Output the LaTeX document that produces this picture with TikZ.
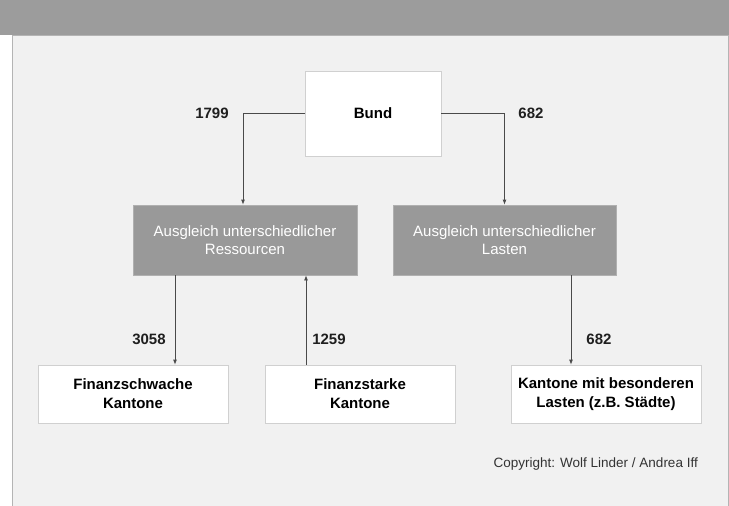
\documentclass[tikz,border=0pt]{standalone}
\usepackage{fontspec}
\setmainfont{Liberation Sans}
\usetikzlibrary{arrows.meta,calc}
\definecolor{banner}{HTML}{9C9C9C}
\definecolor{panel}{HTML}{F1F1F1}
\definecolor{panelborder}{HTML}{B4B4B4}
\definecolor{graybox}{HTML}{999999}
\definecolor{grayboxborder}{HTML}{B0B0B0}
\definecolor{whiteborder}{HTML}{D0D0D0}
\definecolor{linecol}{HTML}{4A4A4A}
\tikzset{
  whitebox/.style={draw=whiteborder, line width=0.8pt, fill=white, align=center, inner sep=0pt},
  graynode/.style={draw=grayboxborder, line width=0.8pt, fill=graybox, text=white, align=center, inner sep=0pt,
    font=\fontsize{15}{18}\selectfont},
  boldlabel/.style={font=\fontsize{15}{17}\bfseries\selectfont, text=black!88, inner sep=0pt},
  arr/.style={draw=linecol, line width=0.8pt, -{Latex[length=5pt,width=4pt]}},
  conn/.style={draw=linecol, line width=0.8pt}
}
\begin{document}
\begin{tikzpicture}[x=1pt,y=-1pt]
\useasboundingbox (0,0) rectangle (729,506);
% background
\fill[white] (0,0) rectangle (729,506);
\fill[banner] (0,0) rectangle (729,35);
\draw[panelborder, fill=panel, line width=0.8pt] (12,35.5) rectangle (728,507);
% nodes
\node[whitebox, minimum width=136pt, minimum height=85pt, font=\fontsize{15}{17}\bfseries\selectfont] (bund) at (373,113.5) {Bund};
\node[graynode, minimum width=224pt, minimum height=70pt] (lg) at (245,240) {Ausgleich unterschiedlicher\\Ressourcen};
\node[graynode, minimum width=223pt, minimum height=70pt] (rg) at (504.5,240) {Ausgleich unterschiedlicher\\Lasten};
\node[whitebox, minimum width=190pt, minimum height=58pt, font=\fontsize{15}{19}\bfseries\selectfont] (fs) at (133,394) {Finanzschwache\\Kantone};
\node[whitebox, minimum width=190pt, minimum height=58pt, font=\fontsize{15}{19}\bfseries\selectfont] (fst) at (360,394) {Finanzstarke\\Kantone};
\node[whitebox, minimum width=190pt, minimum height=58pt, font=\fontsize{15}{19}\bfseries\selectfont] (kb) at (606,394) {Kantone mit besonderen\\Lasten (z.B. St\"adte)};
% helper coordinates
\coordinate (c1) at ([xshift=42pt]fs.north);
\coordinate (c2) at ([xshift=-54pt]fst.north);
\coordinate (c3) at ([xshift=-35pt]kb.north);
\coordinate (t1) at ([xshift=-2pt]lg.north);
\coordinate (t2) at (rg.north);
% connectors
\draw[arr] (bund.west) -| (t1);
\draw[arr] (bund.east) -| (t2);
\draw[arr] (c1 |- lg.south) -- (c1);
\draw[arr] (c2) -- (c2 |- lg.south);
\draw[arr] (c3 |- rg.south) -- (c3);
% labels
\node[boldlabel] (l1799) at (212,113) {1799};
\node[boldlabel] (l682a) at (531,113) {682};
\node[boldlabel] (l3058) at (149,339) {3058};
\node[boldlabel] (l1259) at (329,339) {1259};
\node[boldlabel] (l682b) at (599,339) {682};
\node[anchor=east, inner sep=0pt, font=\fontsize{13.5}{15}\selectfont, text=black!80] (copy) at (698,464) {Copyright: Wolf Linder / Andrea Iff};
\end{tikzpicture}
\end{document}
